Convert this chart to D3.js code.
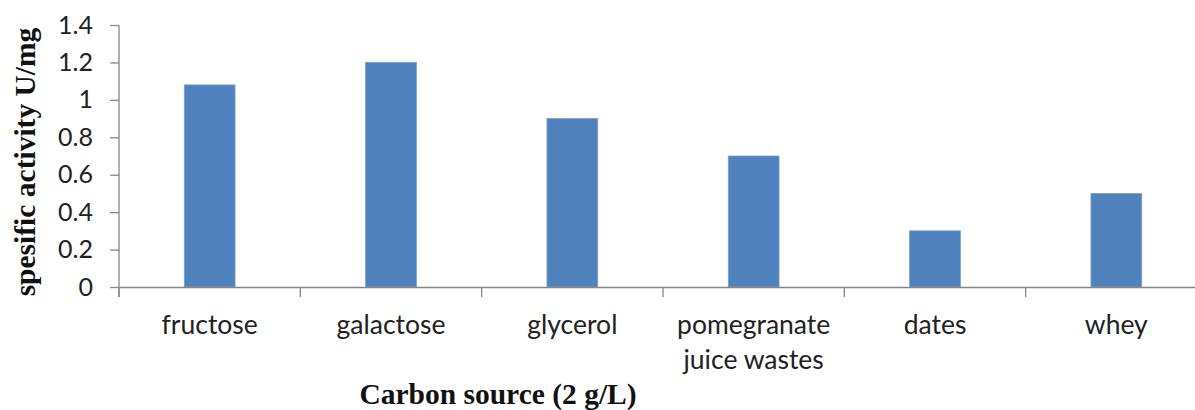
<!DOCTYPE html>
<html>
<head>
<meta charset="utf-8">
<script src="https://cdn.jsdelivr.net/npm/d3@7"></script>
<style>
  html, body { margin: 0; padding: 0; background: #fff; }
  svg { display: block; }
</style>
</head>
<body>
<svg id="chart" width="1195" height="410"></svg>
<script>
const categories = ["fructose", "galactose", "glycerol", "pomegranate\njuice wastes", "dates", "whey"];
const values = [1.08, 1.2, 0.9, 0.7, 0.3, 0.5];
const yTicks = [0, 0.2, 0.4, 0.6, 0.8, 1, 1.2, 1.4];
const yTitle = "spesific activity U/mg";
const xTitle = "Carbon source (2 g/L)";

const svg = d3.select("#chart");
const axisColor = "#868686";
const barColor = "#4F81BD";

const x = d3.scaleBand().domain(categories).range([119, 1207]).padding(0);
const y = d3.scaleLinear().domain([0, 1.4]).range([287, 25]);
const barW = x.bandwidth() * 0.28;

// bars
svg.append("g").selectAll("rect").data(values).join("rect")
  .attr("x", (d, i) => x(categories[i]) + x.bandwidth() / 2 - barW / 2)
  .attr("y", d => y(d))
  .attr("width", barW)
  .attr("height", d => y(0) - y(d))
  .attr("fill", barColor)
  .attr("stroke", "#7B9FCC")
  .attr("stroke-width", 0.8);

// y axis
const yAxis = svg.append("g").attr("transform", "translate(119,0)")
  .call(d3.axisLeft(y).tickValues(yTicks).tickSize(9).tickPadding(17)
    .tickFormat(d => d3.format("~g")(d)));
yAxis.select(".domain").attr("stroke", axisColor).attr("stroke-width", 1.3)
  .attr("d", "M0,25V297");
yAxis.selectAll(".tick line").attr("stroke", axisColor).attr("stroke-width", 1.3);
yAxis.selectAll(".tick text")
  .attr("fill", "#222")
  .style("font-family", "Lato, 'Open Sans', sans-serif")
  .style("font-size", "25px");

// x axis
const xAxis = svg.append("g").attr("transform", "translate(0,287)")
  .call(d3.axisBottom(x).tickSize(0).tickFormat(""));
xAxis.select(".domain").attr("stroke", axisColor).attr("stroke-width", 1.3);
xAxis.selectAll(".tick").remove();
const boundaries = d3.range(categories.length + 1).map(i => x.range()[0] + i * x.step());
xAxis.selectAll("line.sep").data(boundaries).join("line")
  .attr("class", "sep")
  .attr("x1", d => d).attr("x2", d => d)
  .attr("y1", 0).attr("y2", 10)
  .attr("stroke", axisColor).attr("stroke-width", 1.3);

// x labels
const lbl = svg.append("g").selectAll("text").data(categories).join("text")
  .attr("x", d => x(d) + x.bandwidth() / 2)
  .attr("y", 334)
  .attr("text-anchor", "middle")
  .attr("fill", "#222")
  .style("font-family", "Lato, 'Open Sans', sans-serif")
  .style("font-size", "26.5px");
lbl.each(function(d) {
  const parts = d.split("\n");
  const t = d3.select(this);
  parts.forEach((p, i) => {
    t.append("tspan").attr("x", x(d) + x.bandwidth() / 2).attr("dy", i === 0 ? 0 : 35).text(p);
  });
});

// titles
svg.append("text")
  .attr("transform", "translate(35,162) rotate(-90)")
  .attr("text-anchor", "middle")
  .style("font-family", "'Liberation Serif', 'Times New Roman', serif")
  .style("font-weight", "bold")
  .style("font-size", "29.5px")
  .attr("fill", "#111")
  .text(yTitle);

svg.append("text")
  .attr("x", 498)
  .attr("y", 404)
  .attr("text-anchor", "middle")
  .style("font-family", "'Liberation Serif', 'Times New Roman', serif")
  .style("font-weight", "bold")
  .style("font-size", "29.5px")
  .attr("fill", "#111")
  .text(xTitle);
</script>
</body>
</html>
